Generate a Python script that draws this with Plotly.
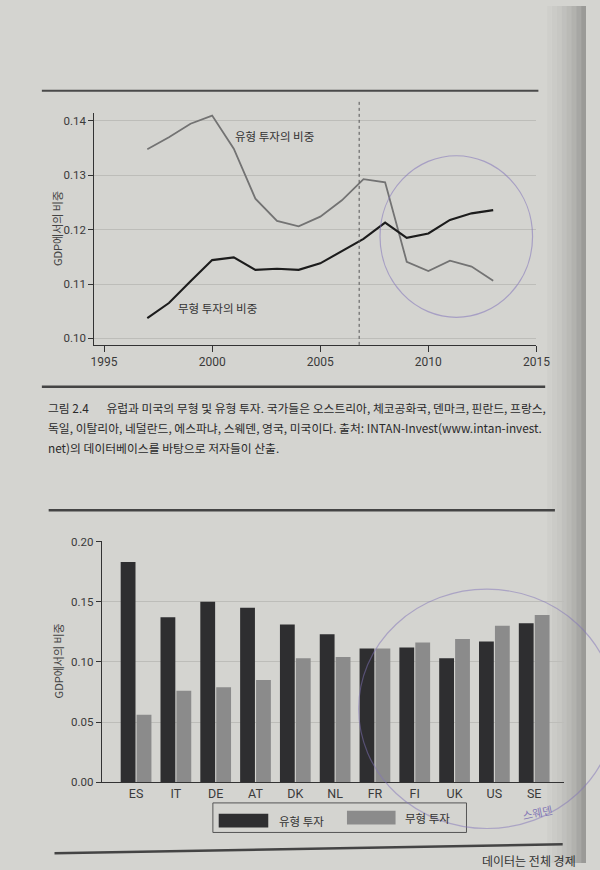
import plotly.graph_objects as go

# ---------------- data ----------------
years = list(range(1997, 2014))
tangible_share = [0.1348, 0.1370, 0.1395, 0.1410, 0.1349, 0.1257, 0.1216, 0.1206, 0.1224,
                  0.1254, 0.1293, 0.1287, 0.1141, 0.1124, 0.1143, 0.1132, 0.1106]
intangible_share = [0.1037, 0.1065, 0.1105, 0.1144, 0.1149, 0.1126, 0.1128, 0.1126, 0.1138,
                    0.1160, 0.1183, 0.1213, 0.1185, 0.1193, 0.1218, 0.1230, 0.1236]
crisis_year = 2006.8
year_ticks = [1995, 2000, 2005, 2010, 2015]
share_ticks_top = [0.10, 0.11, 0.12, 0.13, 0.14]

countries = ["ES", "IT", "DE", "AT", "DK", "NL", "FR", "FI", "UK", "US", "SE"]
tangible = [0.183, 0.137, 0.150, 0.145, 0.131, 0.123, 0.111, 0.112, 0.103, 0.117, 0.132]
intangible = [0.056, 0.076, 0.079, 0.085, 0.103, 0.104, 0.111, 0.116, 0.119, 0.130, 0.139]
share_ticks_bottom = [0.00, 0.05, 0.10, 0.15, 0.20]

label_tangible_line = "유형 투자의 비중"
label_intangible_line = "무형 투자의 비중"
label_tangible = "유형 투자"
label_intangible = "무형 투자"
y_title = "GDP에서의 비중"
caption_lines = [
    "그림 2.4\u2003\u2002유럽과 미국의 무형 및 유형 투자. 국가들은 오스트리아, 체코공화국, 덴마크, 핀란드, 프랑스,",
    "독일, 이탈리아, 네덜란드, 에스파냐, 스웨덴, 영국, 미국이다. 출처: INTAN-Invest(www.intan-invest.",
    "net)의 데이터베이스를 바탕으로 저자들이 산출.",
]
handwritten_note = "스웨덴"
next_text = "데이터는 전체 경제"

# ---------------- helpers ----------------
W, H = 600, 870
def px(x):
    return x / W
def py(y):
    return 1 - y / H

KR = "Noto Sans CJK KR"
NUM = "Roboto"
BG = "#d4d4d0"
TXT = "#3a3a3a"
GRID = "#bdbdb9"

fig = go.Figure()

# top line chart
fig.add_trace(go.Scatter(x=years, y=tangible_share, mode="lines",
                         line=dict(color="#737373", width=1.8),
                         xaxis="x", yaxis="y", showlegend=False))
fig.add_trace(go.Scatter(x=years, y=intangible_share, mode="lines",
                         line=dict(color="#1c1c1c", width=2.1),
                         xaxis="x", yaxis="y", showlegend=False))

# bottom bar chart
fig.add_trace(go.Bar(x=countries, y=tangible, name=label_tangible,
                     marker=dict(color="#2e2e30", line=dict(width=0)),
                     xaxis="x2", yaxis="y2", showlegend=False))
fig.add_trace(go.Bar(x=countries, y=intangible, name=label_intangible,
                     marker=dict(color="#8b8b8b", line=dict(width=0)),
                     xaxis="x2", yaxis="y2", showlegend=False))

tick_font = dict(family=NUM, size=11.5, color=TXT)

fig.update_layout(
    width=W, height=H,
    margin=dict(l=0, r=0, t=0, b=0),
    paper_bgcolor=BG, plot_bgcolor="rgba(0,0,0,0)",
    barmode="group", bargap=0.2, bargroupgap=0.07,
    xaxis=dict(domain=[px(94), px(549)], range=[1994.55, 2015],
               tickvals=year_ticks, ticktext=[str(v) for v in year_ticks],
               ticks="outside", ticklen=6, tickcolor="#333", tickwidth=1,
               showline=True, linecolor="#333", linewidth=1,
               showgrid=False, zeroline=False, anchor="y",
               tickfont=dict(family=NUM, size=12, color=TXT)),
    yaxis=dict(domain=[py(344), py(109)], range=[0.0988, 0.1414],
               tickvals=share_ticks_top, tickformat=".2f",
               ticks="outside", ticklen=5, tickcolor="#333", tickwidth=1,
               showline=True, linecolor="#333", linewidth=1,
               showgrid=True, gridcolor=GRID, gridwidth=1,
               zeroline=False, anchor="x", tickfont=tick_font),
    xaxis2=dict(domain=[px(101.7), px(577)], range=[-0.86, 10.74],
                type="category", ticks="", showline=True, linecolor="#333",
                linewidth=1, showgrid=False, zeroline=False, anchor="y2",
                tickfont=dict(family=NUM, size=12.5, color=TXT)),
    yaxis2=dict(domain=[py(788), py(543)], range=[0, 0.2005],
                tickvals=share_ticks_bottom, tickformat=".2f",
                ticks="outside", ticklen=5, tickcolor="#333", tickwidth=1,
                showline=True, linecolor="#333", linewidth=1,
                showgrid=True, gridcolor=GRID, gridwidth=1,
                zeroline=False, anchor="x2", tickfont=tick_font),
)

shapes = []
# darkened right edge of the photographed page
for i, a in enumerate([0.02, 0.04, 0.06, 0.09, 0.12, 0.16, 0.21, 0.27]):
    x0 = 560 + i * 5
    shapes.append(dict(type="rect", xref="paper", yref="paper",
                       x0=px(x0), x1=px(x0 + 5 if i < 7 else 600), y0=0, y1=1,
                       fillcolor=f"rgba(0,0,0,{a})", line=dict(width=0), layer="below"))
# page rules
shapes += [
    dict(type="line", xref="paper", yref="paper", x0=px(40), x1=px(551), y0=py(86), y1=py(86),
         line=dict(color="#4a4a4a", width=2)),
    dict(type="line", xref="paper", yref="paper", x0=px(40), x1=px(558), y0=py(386.5), y1=py(386.5),
         line=dict(color="#444", width=2.5)),
    dict(type="line", xref="paper", yref="paper", x0=px(47), x1=px(568), y0=py(512), y1=py(512),
         line=dict(color="#444", width=2.5)),
    dict(type="line", xref="paper", yref="paper", x0=px(53), x1=px(576), y0=py(860), y1=py(851),
         line=dict(color="#444", width=2.5)),
]
# dashed vertical line (2007)
shapes.append(dict(type="line", xref="x", yref="paper", x0=crisis_year, x1=crisis_year,
                   y0=py(344), y1=py(95), line=dict(color="#555", width=1, dash="dot")))
# legend box for bar chart
shapes += [
    dict(type="rect", xref="paper", yref="paper", x0=px(216), x1=px(477), y0=py(839), y1=py(809),
         line=dict(color="#555", width=1), fillcolor="rgba(0,0,0,0)"),
    dict(type="rect", xref="paper", yref="paper", x0=px(222), x1=px(273), y0=py(834), y1=py(820),
         line=dict(width=0), fillcolor="#2e2e30"),
    dict(type="rect", xref="paper", yref="paper", x0=px(354), x1=px(404), y0=py(831), y1=py(817),
         line=dict(width=0), fillcolor="#8b8b8b"),
]
# hand-drawn pencil circles
shapes += [
    dict(type="circle", xref="paper", yref="paper", x0=px(388), x1=px(545), y0=py(316), y1=py(152),
         line=dict(color="rgba(130,115,185,0.55)", width=1.2)),
    dict(type="circle", xref="paper", yref="paper", x0=px(366), x1=px(630), y0=py(835), y1=py(592),
         line=dict(color="rgba(130,115,185,0.5)", width=1.2)),
]
fig.update_layout(shapes=shapes)

ann = []
ann.append(dict(x=2002.88, y=0.1373, xref="x", yref="y", text=label_tangible_line,
                showarrow=False, font=dict(family=KR, size=11.5, color="#333")))
ann.append(dict(x=2000.25, y=0.1056, xref="x", yref="y", text=label_intangible_line,
                showarrow=False, font=dict(family=KR, size=11.5, color="#333")))
ann.append(dict(x=px(55), y=py(226), xref="paper", yref="paper", text=y_title, textangle=-90,
                xanchor="center", yanchor="middle",
                showarrow=False, font=dict(family=KR, size=11, color="#444")))
ann.append(dict(x=px(57), y=py(665), xref="paper", yref="paper", text=y_title, textangle=-90,
                xanchor="center", yanchor="middle",
                showarrow=False, font=dict(family=KR, size=11, color="#444")))
for i, line in enumerate(caption_lines):
    ann.append(dict(x=px(44), y=py(408 + 20 * i), xref="paper", yref="paper", text=line,
                    xanchor="left", yanchor="middle", showarrow=False,
                    font=dict(family=KR, size=11.8, color="#2a2a2a")))
ann.append(dict(x=px(282), y=py(827), xref="paper", yref="paper", text=label_tangible,
                xanchor="left", yanchor="middle", showarrow=False,
                font=dict(family=KR, size=11.5, color="#333")))
ann.append(dict(x=px(412), y=py(824), xref="paper", yref="paper", text=label_intangible,
                xanchor="left", yanchor="middle", showarrow=False,
                font=dict(family=KR, size=11.5, color="#333")))
ann.append(dict(x=px(550), y=py(818), xref="paper", yref="paper", text=handwritten_note,
                textangle=-12, xanchor="center", yanchor="middle", showarrow=False,
                font=dict(family=KR, size=11, color="rgba(110,95,175,0.8)")))
ann.append(dict(x=px(592), y=py(867), xref="paper", yref="paper", text=next_text,
                xanchor="right", yanchor="middle", showarrow=False,
                font=dict(family=KR, size=12, color="#333")))
fig.update_layout(annotations=ann)

fig.write_html(
    "out.html",
    config={"displayModeBar": False},
    post_script=(
        "document.documentElement.style.margin='0px';"
        "document.documentElement.style.overflow='hidden';"
        "document.body.style.margin='0px';"
        "document.body.style.overflow='hidden';"
    ),
)
